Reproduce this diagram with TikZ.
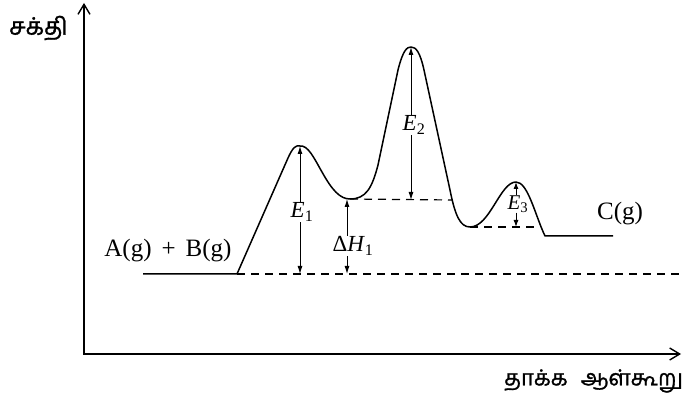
\documentclass[tikz,border=0pt]{standalone}
\usepackage{fontspec}
\setmainfont{Liberation Serif}
\newfontfamily\tamilfont[Script=Tamil,FakeBold=1.2]{Hind Madurai}
\usetikzlibrary{arrows.meta}
\tikzset{
  curveline/.style={line width=1.5pt, line join=round},
  axisline/.style={line width=1.5pt, -{Straight Barb[length=10pt,width=12pt,line width=1.4pt]}},
  dashline/.style={line width=1.2pt, dash pattern=on 8pt off 6pt},
  dblarrow/.style={line width=1pt, {Latex[length=8pt,width=5pt]}-{Latex[length=8pt,width=5pt]}},
  sglarrow/.style={line width=1pt, -{Latex[length=7pt,width=5pt]}},
  elabel/.style={font=\fontsize{23}{26}\selectfont, fill=white, inner sep=1pt},
  chem/.style={font=\fontsize{25}{29}\selectfont, inner sep=0pt},
  tamil/.style={font=\tamilfont\fontsize{24}{28}\selectfont, inner sep=0pt}
}
\begin{document}
\begin{tikzpicture}[x=1pt,y=-1pt]
\useasboundingbox[fill=white] (0,0) rectangle (689,398);
% axes
\coordinate (origin) at (84,354);
\coordinate (ytip) at (84,3);
\coordinate (xtip) at (681,354);
\draw[axisline] (origin|-0,355) -- (ytip);
\draw[axisline] (83,354) -- (xtip);
\node[tamil, anchor=west] (ylab) at (9,28) {சக்தி};
\node[tamil, anchor=west, font=\tamilfont\fontsize{22}{26}\selectfont] (xlab) at (504,381) {தாக்க\hspace{0.6em}ஆள்கூறு};
% key points
\coordinate (base) at (143,274);
\coordinate (rise) at (237,274);
\coordinate (p1) at (300,146);
\coordinate (v1) at (350,199);
\coordinate (p2) at (411,47);
\coordinate (v2) at (470,227);
\coordinate (p3) at (516,182);
\coordinate (endc) at (613,236);
% dashed reference lines
\coordinate (dashR) at (680,274);
\coordinate (d2R) at (452,200);
\coordinate (d3R) at (540,227);
\draw[dashline] (rise) -- (dashR);
\draw[dashline] (v1) -- (d2R);
\draw[dashline] (v2) -- (d3R);
% energy curve
\draw[curveline] (base) -- (rise) -- (288,158)
  .. controls (293,147) and (296,145) .. (p1)
  .. controls (308,145) and (314,158) .. (322,172)
  .. controls (332,190) and (340,199) .. (v1)
  .. controls (366,199) and (372,188) .. (378,165)
  -- (398,70)
  .. controls (403,50) and (407,47) .. (p2)
  .. controls (416,47) and (420,52) .. (424,70)
  -- (450,190)
  .. controls (455,215) and (460,227) .. (v2)
  .. controls (490,227) and (500,182) .. (p3)
  .. controls (528,182) and (535,215) .. (545,236)
  -- (endc);
% E1
\coordinate (e1b) at (300,274);
\draw[dblarrow] (p1) -- (e1b);
\node[elabel] (e1) at (302,212) {\textit{E}\textsubscript{1}};
% Delta H1
\coordinate (h1t) at (347,199);
\coordinate (h1b) at (347,274);
\draw[dblarrow] (h1t) -- (h1b);
\node[elabel] (dh1) at (353,246) {Δ\textit{H}\textsubscript{1}};
% E2
\coordinate (e2b) at (411,200);
\draw[dblarrow] (p2) -- (e2b);
\node[elabel] (e2) at (414,125) {\textit{E}\textsubscript{2}};
% E3
\node[font=\fontsize{21}{24}\selectfont, inner sep=0pt] (e3) at (518,204) {\textit{E}\textsubscript{3}};
\coordinate (e3b) at (516,227);
\draw[sglarrow] (e3.north-|p3) -- (p3);
\draw[sglarrow] (e3.south-|p3) -- (e3b);
% chemical labels
\node[chem] (ab) at (168,251) {A(g)\hspace{0.4em}+\hspace{0.4em}B(g)};
\node[chem] (c) at (620,214) {C(g)};
\end{tikzpicture}
\end{document}
